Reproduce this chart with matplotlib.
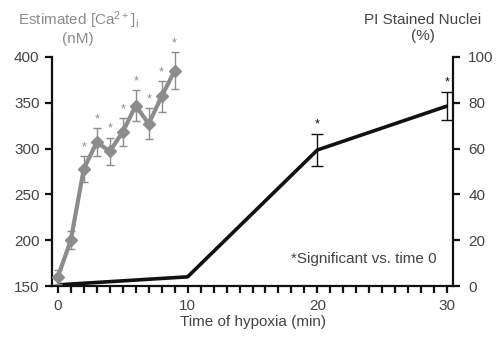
import matplotlib
matplotlib.use("Agg")
import matplotlib.pyplot as plt
from matplotlib.ticker import MultipleLocator

plt.rcParams['font.family'] = ['Liberation Sans', 'DejaVu Sans']
plt.rcParams['mathtext.default'] = 'regular'

# [Ca2+]i series (left axis)
ca_time = [0, 1, 2, 3, 4, 5, 6, 7, 8, 9]
ca_values = [160, 200, 278, 307, 297, 318, 347, 327, 357, 385]
ca_err = [8, 10, 14, 15, 15, 15, 17, 17, 17, 20]
ca_signif = [False, False, True, True, True, True, True, True, True, True]

# PI stained nuclei series (right axis)
pi_time = [0, 10, 20, 30]
pi_values = [0.5, 4, 59.4, 78.6]
pi_err = [0, 0, 7, 6]
pi_signif = [False, False, True, True]

gray = '#8c8c8c'
txt = '#444444'

fig = plt.figure(figsize=(5, 3.42), dpi=100)
ax = fig.add_axes([52 / 500, 56 / 342, 401 / 500, 229 / 342])
ax2 = ax.twinx()

# black PI line
ax2.plot(pi_time, pi_values, color='#111111', lw=2.6, zorder=2, solid_capstyle='butt')
for t, v, e, s in zip(pi_time, pi_values, pi_err, pi_signif):
    if e:
        ax2.errorbar(t, v, yerr=e, color='#111111', lw=1, capsize=4, capthick=1, clip_on=False)
    if s:
        ax2.text(t, v + e + 1.5, '*', ha='center', va='bottom', fontsize=9, color='#111111')

# gray Ca line
ax.errorbar(ca_time, ca_values, yerr=ca_err, color=gray, lw=3, marker='D', ms=6,
            ecolor=gray, elinewidth=1, capsize=3, capthick=1, zorder=5, clip_on=False)
for t, v, e, s in zip(ca_time, ca_values, ca_err, ca_signif):
    if s:
        ax.text(t, v + e + 3, '*', ha='center', va='bottom', fontsize=9, color=gray)

ax.set_zorder(ax2.get_zorder() + 1)
ax.patch.set_visible(False)

ax.set_xlim(-0.45, 30.45)
ax.set_ylim(150, 400)
ax2.set_ylim(0, 100)

ax.xaxis.set_major_locator(MultipleLocator(10))
ax.xaxis.set_minor_locator(MultipleLocator(1))
ax.yaxis.set_major_locator(MultipleLocator(50))
ax2.yaxis.set_major_locator(MultipleLocator(20))

for a in (ax, ax2):
    a.spines['top'].set_visible(False)
    for sp in a.spines.values():
        sp.set_linewidth(1.6)
        sp.set_color('#111111')
ax.spines['right'].set_visible(False)
ax2.spines['left'].set_visible(False)
ax2.spines['bottom'].set_visible(False)

ax.tick_params(axis='both', which='major', length=5, width=1.6, color='#111111',
               labelsize=11, labelcolor=txt, pad=4)
ax.tick_params(axis='x', which='minor', length=5, width=1.6, color='#111111')
ax2.tick_params(axis='y', length=5, width=1.6, color='#111111', labelsize=11,
                labelcolor=txt, pad=6)

ax.set_xlabel('Time of hypoxia (min)', fontsize=11, color=txt, labelpad=2)

fig.text(78 / 500, 1 - 28 / 342, 'Estimated [Ca$^{2+}$]$_i$\n(nM)', ha='center', va='center',
         fontsize=11, color=gray, linespacing=1.1)
fig.text(423 / 500, 1 - 28 / 342, 'PI Stained Nuclei\n(%)', ha='center', va='center',
         fontsize=11, color=txt, linespacing=1.1)

ax2.text(29.2, 12, '*Significant vs. time 0', ha='right', va='center', fontsize=11, color=txt)

fig.savefig('out.png', dpi=100)
